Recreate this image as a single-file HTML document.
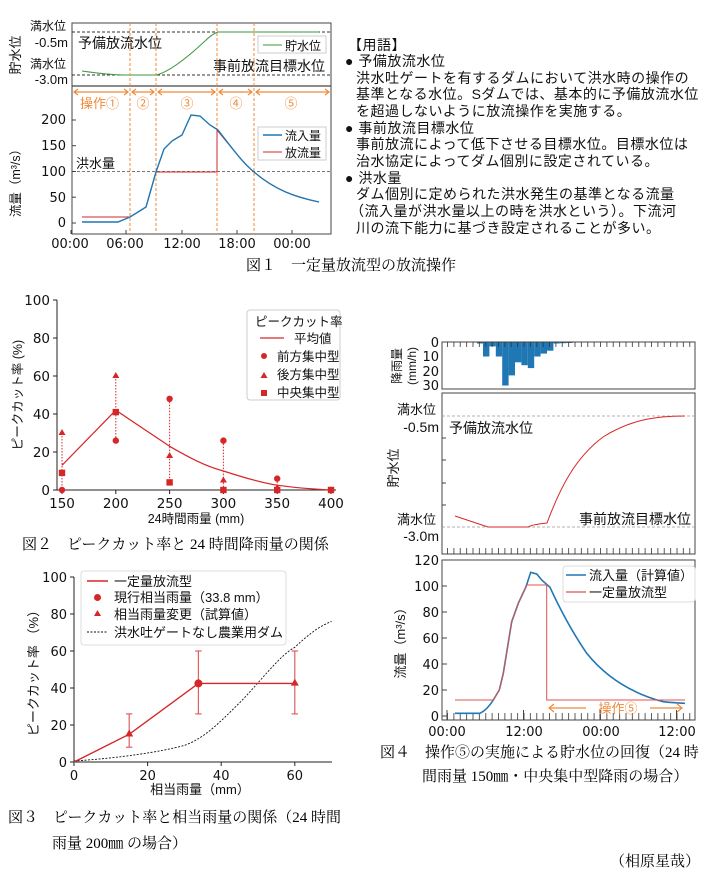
<!DOCTYPE html>
<html><head><meta charset="utf-8"><style>
body{margin:0;background:#fff;width:705px;height:880px;overflow:hidden}
svg{display:block}
.s{font-family:"DejaVu Sans","Noto Sans CJK JP",sans-serif}
.j{font-family:"Liberation Sans","Noto Sans CJK JP",sans-serif}
.c{font-family:"Liberation Serif","Noto Serif CJK JP",serif}
</style></head><body>
<svg width="705" height="880" viewBox="0 0 705 880" xmlns="http://www.w3.org/2000/svg">
<defs>
<pattern id="tk" x="447" y="0" width="6.375" height="10" patternUnits="userSpaceOnUse"><line x1="0.5" y1="0" x2="0.5" y2="10" stroke="#333" stroke-width="0.8"/></pattern>
</defs>
<!-- ========== FIG 1 ========== -->
<g class="j" fill="#111">
<rect x="72" y="23" width="259" height="211" fill="none" stroke="#444" stroke-width="1"/>
<line x1="72" y1="86" x2="331" y2="86" stroke="#444" stroke-width="1.2"/>
<line x1="72" y1="32" x2="331" y2="32" stroke="#333" stroke-dasharray="3,2"/>
<line x1="72" y1="75" x2="331" y2="75" stroke="#333" stroke-dasharray="3,2"/>
<text x="66" y="30" font-size="12" text-anchor="end">満水位</text>
<text x="68" y="47" font-size="13" text-anchor="end">-0.5m</text>
<text x="66" y="68" font-size="12" text-anchor="end">満水位</text>
<text x="68" y="84" font-size="13" text-anchor="end">-3.0m</text>
<text transform="translate(20,55) rotate(-90)" font-size="13" text-anchor="middle">貯水位</text>
<text x="78" y="48" font-size="14">予備放流水位</text>
<text x="325" y="71" font-size="14" text-anchor="end">事前放流目標水位</text>
<path fill="none" stroke="#3a9a3a" stroke-width="1" d="M82,71 Q110,75 125,75 L156,75 C170,72 190,55 205,41 Q212,34 218,32 L319,32"/>
<rect x="258" y="36" width="68" height="17" fill="#fff" stroke="#ccc"/>
<line x1="263" y1="45" x2="282" y2="45" stroke="#3a9a3a"/>
<text x="285" y="50" font-size="12">貯水位</text>
<g stroke="#f08a3a" stroke-dasharray="3,2" stroke-width="1"><line x1="130" y1="23" x2="130" y2="234"/><line x1="156" y1="23" x2="156" y2="234"/><line x1="217" y1="23" x2="217" y2="234"/><line x1="254" y1="23" x2="254" y2="234"/></g>
<g stroke="#f08a3a" stroke-width="1.2" fill="none">
<line x1="74" y1="92" x2="128" y2="92"/><line x1="132" y1="92" x2="154" y2="92"/><line x1="158" y1="92" x2="215" y2="92"/><line x1="219" y1="92" x2="252" y2="92"/><line x1="256" y1="92" x2="329" y2="92"/>
<path d="M78,89 L74,92 L78,95 M124,89 L128,92 L124,95 M136,89 L132,92 L136,95 M150,89 L154,92 L150,95 M162,89 L158,92 L162,95 M211,89 L215,92 L211,95 M223,89 L219,92 L223,95 M248,89 L252,92 L248,95 M260,89 L256,92 L260,95 M325,89 L329,92 L325,95"/>
</g>
<g fill="#f08a3a" font-size="13"><text x="80" y="108">操作①</text><text x="143" y="108" text-anchor="middle">②</text><text x="187" y="108" text-anchor="middle">③</text><text x="236" y="108" text-anchor="middle">④</text><text x="291" y="108" text-anchor="middle">⑤</text></g>
<line x1="72" y1="171.5" x2="331" y2="171.5" stroke="#777" stroke-dasharray="3,2"/>
<text x="76" y="168" font-size="13">洪水量</text>
<g class="s" font-size="13" text-anchor="end"><text x="66" y="124">200</text><text x="66" y="150">150</text><text x="66" y="176">100</text><text x="66" y="202">50</text><text x="66" y="227">0</text></g>
<g stroke="#444"><line x1="72" y1="120" x2="76" y2="120"/><line x1="72" y1="145.7" x2="76" y2="145.7"/><line x1="72" y1="171.5" x2="76" y2="171.5"/><line x1="72" y1="197.2" x2="76" y2="197.2"/><line x1="72" y1="223" x2="76" y2="223"/></g>
<text transform="translate(20,180) rotate(-90)" font-size="12.5" text-anchor="middle">流量（m³/s）</text>
<path fill="none" stroke="#d62728" stroke-width="1" d="M82,217 L130,217 L146,207 L156,172 L217,172 L217,130 C232,148 242,162 254,172 C275,190 295,197 319,202"/>
<path fill="none" stroke="#1f77b4" stroke-width="1.4" d="M82,222 L118,222 L130,217 L146,207 L156,172 L164,149 L172,141 L182,135 L191,115 L200,116 L210,125 L218,130 C232,148 242,162 254,172 C275,190 295,197 319,202"/>
<rect x="258" y="127" width="68" height="33" fill="#fff" stroke="#ccc"/>
<line x1="263" y1="135" x2="282" y2="135" stroke="#1f77b4" stroke-width="1.4"/><text x="285" y="140" font-size="12">流入量</text>
<line x1="263" y1="152" x2="282" y2="152" stroke="#d62728"/><text x="285" y="157" font-size="12">放流量</text>
<g class="s" font-size="13" text-anchor="middle"><text x="70" y="248">00:00</text><text x="125" y="248">06:00</text><text x="182" y="248">12:00</text><text x="237" y="248">18:00</text><text x="292" y="248">00:00</text></g>
<g stroke="#444"><line x1="71" y1="234" x2="71" y2="230"/><line x1="126" y1="234" x2="126" y2="230"/><line x1="182" y1="234" x2="182" y2="230"/><line x1="237" y1="234" x2="237" y2="230"/><line x1="292" y1="234" x2="292" y2="230"/></g>
</g>
<text class="c" x="246" y="270" font-size="15">図１　一定量放流型の放流操作</text>
<g class="j" font-size="14" fill="#111" letter-spacing="0.5">
<text x="348" y="50">【用語】</text>
<text x="345" y="66">●  予備放流水位</text>
<text x="356" y="83">洪水吐ゲートを有するダムにおいて洪水時の操作の</text>
<text x="356" y="99">基準となる水位。Sダムでは、基本的に予備放流水位</text>
<text x="356" y="116">を超過しないように放流操作を実施する。</text>
<text x="345" y="133">●  事前放流目標水位</text>
<text x="356" y="149">事前放流によって低下させる目標水位。目標水位は</text>
<text x="356" y="166">治水協定によってダム個別に設定されている。</text>
<text x="345" y="183">●  洪水量</text>
<text x="356" y="199">ダム個別に定められた洪水発生の基準となる流量</text>
<text x="350" y="216">（流入量が洪水量以上の時を洪水という）。下流河</text>
<text x="356" y="233">川の流下能力に基づき設定されることが多い。</text>
</g>
<!-- ========== FIG 2 ========== -->
<g class="j" fill="#111">
<line x1="57" y1="300" x2="57" y2="490" stroke="#222"/>
<line x1="57" y1="490" x2="336" y2="490" stroke="#222"/>
<g class="s" font-size="13.5" text-anchor="end"><text x="50" y="305">100</text><text x="50" y="343">80</text><text x="50" y="381">60</text><text x="50" y="419">40</text><text x="50" y="457">20</text><text x="50" y="495">0</text></g>
<g stroke="#222"><line x1="53" y1="300" x2="57" y2="300"/><line x1="53" y1="338" x2="57" y2="338"/><line x1="53" y1="376" x2="57" y2="376"/><line x1="53" y1="414" x2="57" y2="414"/><line x1="53" y1="452" x2="57" y2="452"/><line x1="53" y1="490" x2="57" y2="490"/>
<line x1="62" y1="490" x2="62" y2="494"/><line x1="115.8" y1="490" x2="115.8" y2="494"/><line x1="169.6" y1="490" x2="169.6" y2="494"/><line x1="223.4" y1="490" x2="223.4" y2="494"/><line x1="277.2" y1="490" x2="277.2" y2="494"/><line x1="331" y1="490" x2="331" y2="494"/></g>
<g class="s" font-size="13.5" text-anchor="middle"><text x="62" y="508">150</text><text x="115.8" y="508">200</text><text x="169.6" y="508">250</text><text x="223.4" y="508">300</text><text x="277.2" y="508">350</text><text x="331" y="508">400</text></g>
<text x="196" y="523" font-size="12.5" text-anchor="middle">24時間雨量 (mm)</text>
<text transform="translate(22,395) rotate(-90)" font-size="12.5" text-anchor="middle">ピークカット率 (%)</text>
<g stroke="#d62728" stroke-dasharray="1.5,1.5" stroke-width="1"><line x1="62" y1="433" x2="62" y2="490"/><line x1="115.8" y1="376" x2="115.8" y2="440.6"/><line x1="169.6" y1="398.8" x2="169.6" y2="482.4"/><line x1="223.4" y1="440.6" x2="223.4" y2="490"/><line x1="277.2" y1="478.6" x2="277.2" y2="490"/></g>
<path fill="none" stroke="#d62728" stroke-width="1.2" d="M62,465.3 L115.8,410.2 L169.6,446.3 C190,458 205,466 223.4,471 C245,478 262,483 277.2,485.2 Q300,488.5 331,490"/>
<g fill="#d62728">
<circle cx="62" cy="490" r="3.2"/><circle cx="115.8" cy="440.6" r="3.2"/><circle cx="169.6" cy="398.8" r="3.2"/><circle cx="223.4" cy="440.6" r="3.2"/><circle cx="277.2" cy="478.6" r="3.2"/><circle cx="331" cy="490" r="3.2"/>
<path d="M62,429 l3.5,6 h-7z M115.8,372 l3.5,6 h-7z M169.6,452 l3.5,6 h-7z M223.4,476.5 l3.5,6 h-7z M277.2,484 l3.5,6 h-7z"/>
<rect x="58.8" y="469.7" width="6.4" height="6.4"/><rect x="112.6" y="408.9" width="6.4" height="6.4"/><rect x="166.4" y="479.2" width="6.4" height="6.4"/><rect x="220.2" y="486.8" width="6.4" height="6.4"/><rect x="274" y="486.8" width="6.4" height="6.4"/><rect x="327.8" y="486.8" width="6.4" height="6.4"/>
</g>
<rect x="247" y="310" width="93" height="90" rx="3" fill="#fff" stroke="#ccc"/>
<text x="255" y="326" font-size="12.5">ピークカット率</text>
<line x1="260" y1="338" x2="284" y2="338" stroke="#d62728" stroke-width="1.2"/><text x="294" y="343" font-size="12.5">平均値</text>
<circle cx="264" cy="356" r="3" fill="#d62728"/><text x="277" y="361" font-size="12.5">前方集中型</text>
<path d="M264,372 l3.5,6 h-7z" fill="#d62728"/><text x="277" y="379" font-size="12.5">後方集中型</text>
<rect x="261" y="390" width="6" height="6" fill="#d62728"/><text x="277" y="397" font-size="12.5">中央集中型</text>
</g>
<text class="c" x="22" y="549" font-size="15">図２　ピークカット率と 24 時間降雨量の関係</text>
<!-- ========== FIG 3 ========== -->
<g class="j" fill="#111">
<line x1="74" y1="577" x2="74" y2="762" stroke="#222"/>
<line x1="74" y1="762" x2="332" y2="762" stroke="#222"/>
<g class="s" font-size="13" text-anchor="end"><text x="67" y="582">100</text><text x="67" y="619">80</text><text x="67" y="656">60</text><text x="67" y="693">40</text><text x="67" y="730">20</text><text x="67" y="767">0</text></g>
<g stroke="#222"><line x1="70" y1="577" x2="74" y2="577"/><line x1="70" y1="614" x2="74" y2="614"/><line x1="70" y1="651" x2="74" y2="651"/><line x1="70" y1="688" x2="74" y2="688"/><line x1="70" y1="725" x2="74" y2="725"/><line x1="70" y1="762" x2="74" y2="762"/>
<line x1="74" y1="762" x2="74" y2="766"/><line x1="147.6" y1="762" x2="147.6" y2="766"/><line x1="221.2" y1="762" x2="221.2" y2="766"/><line x1="294.8" y1="762" x2="294.8" y2="766"/></g>
<g class="s" font-size="13" text-anchor="middle"><text x="74" y="780">0</text><text x="147.6" y="780">20</text><text x="221.2" y="780">40</text><text x="294.8" y="780">60</text></g>
<text x="200" y="794" font-size="13" text-anchor="middle">相当雨量（mm）</text>
<text transform="translate(38,670) rotate(-90)" font-size="13" text-anchor="middle">ピークカット率 （%）</text>
<path fill="none" stroke="#111" stroke-width="0.9" stroke-dasharray="2,1.5" d="M74,761 C120,758 160,752 184.4,745.4 C205,738 220,722 239.6,702.8 C260,682 280,655 294.8,647.3 C310,633 320,626 331.6,621.4"/>
<g stroke="#e06060" stroke-width="1.2"><line x1="129.2" y1="713.9" x2="129.2" y2="747.2"/><line x1="126" y1="713.9" x2="132.4" y2="713.9"/><line x1="126" y1="747.2" x2="132.4" y2="747.2"/>
<line x1="198.4" y1="651" x2="198.4" y2="713.9"/><line x1="195.2" y1="651" x2="201.6" y2="651"/><line x1="195.2" y1="713.9" x2="201.6" y2="713.9"/>
<line x1="294.8" y1="651" x2="294.8" y2="713.9"/><line x1="291.6" y1="651" x2="298" y2="651"/><line x1="291.6" y1="713.9" x2="298" y2="713.9"/></g>
<polyline fill="none" stroke="#d62728" stroke-width="1.4" points="74,762 129.2,734.3 198.4,683.4 294.8,683.4"/>
<circle cx="198.4" cy="683.4" r="4" fill="#d62728"/>
<path d="M129.2,729.5 l4,7 h-8z M294.8,678.6 l4,7 h-8z" fill="#d62728"/>
<rect x="81" y="571" width="205" height="74" rx="3" fill="#fff" stroke="#ddd"/>
<line x1="87" y1="581" x2="108" y2="581" stroke="#d62728" stroke-width="1.4"/><text x="114" y="586" font-size="13">一定量放流型</text>
<circle cx="97.5" cy="597.5" r="3.5" fill="#d62728"/><text x="114" y="602" font-size="13">現行相当雨量（33.8 mm）</text>
<path d="M97.5,610 l3.5,6 h-7z" fill="#d62728"/><text x="114" y="619" font-size="13">相当雨量変更（試算値）</text>
<line x1="87" y1="632" x2="108" y2="632" stroke="#111" stroke-dasharray="2,1.5"/><text x="114" y="637" font-size="13">洪水吐ゲートなし農業用ダム</text>
</g>
<text class="c" x="8" y="822" font-size="15">図３　ピークカット率と相当雨量の関係（24 時間</text>
<text class="c" x="52" y="848" font-size="15">雨量 200㎜ の場合）</text>
<!-- ========== FIG 4 ========== -->
<g class="j" fill="#111">
<g fill="#1f77b4">
<rect x="477" y="342" width="6.4" height="1.5"/><rect x="483" y="342" width="6.4" height="14.5"/><rect x="489.4" y="342" width="6.4" height="4.4"/><rect x="495.8" y="342" width="6.4" height="14.5"/><rect x="502.2" y="342" width="6.4" height="43.5"/><rect x="508.6" y="342" width="6.4" height="33.4"/><rect x="515" y="342" width="6.4" height="20.3"/><rect x="521.4" y="342" width="6.4" height="23.2"/><rect x="527.8" y="342" width="6.4" height="26.1"/><rect x="534.2" y="342" width="6.4" height="14.5"/><rect x="540.6" y="342" width="6.4" height="11.6"/><rect x="547" y="342" width="6.4" height="8.7"/><rect x="553.4" y="342" width="6.4" height="1.5"/><rect x="559.8" y="342" width="6.4" height="1.2"/><rect x="566.2" y="342" width="6.4" height="1"/>
</g>
<rect x="442" y="342" width="253" height="47" fill="none" stroke="#444"/>
<rect x="442" y="342" width="253" height="5" fill="url(#tk)"/>
<g class="s" font-size="13" text-anchor="end"><text x="439" y="347">0</text><text x="439" y="361">10</text><text x="439" y="376">20</text><text x="439" y="390">30</text></g>
<text transform="translate(401,366) rotate(-90)" font-size="12" text-anchor="middle">降雨量</text>
<text transform="translate(416,366) rotate(-90)" font-size="12" text-anchor="middle">(mm/h)</text>
<rect x="442" y="393" width="253" height="161" fill="none" stroke="#444"/>
<rect x="442" y="548" width="253" height="6" fill="url(#tk)"/>
<line x1="442" y1="416" x2="695" y2="416" stroke="#999" stroke-dasharray="3,2" stroke-width="0.8"/>
<line x1="442" y1="527" x2="695" y2="527" stroke="#999" stroke-dasharray="3,2" stroke-width="0.8"/>
<g stroke="#444"><line x1="442" y1="438" x2="446" y2="438"/><line x1="442" y1="460" x2="446" y2="460"/><line x1="442" y1="483" x2="446" y2="483"/><line x1="442" y1="505" x2="446" y2="505"/></g>
<text x="436" y="414" font-size="13" text-anchor="end">満水位</text>
<text x="439" y="432" font-size="14" text-anchor="end">-0.5m</text>
<text x="436" y="524" font-size="13" text-anchor="end">満水位</text>
<text x="439" y="541" font-size="14" text-anchor="end">-3.0m</text>
<text transform="translate(398,468) rotate(-90)" font-size="13" text-anchor="middle">貯水位</text>
<text x="449" y="433" font-size="14">予備放流水位</text>
<text x="691" y="524" font-size="14" text-anchor="end">事前放流目標水位</text>
<path fill="none" stroke="#d62728" stroke-width="1" d="M455,516 L488,527 L528,527 C532,525 535,524.5 547,523 C560,488 575,458 603,437 C630,420 655,416 685,416"/>
<rect x="442" y="560" width="253" height="160" fill="none" stroke="#444"/>
<rect x="442" y="713" width="253" height="7" fill="url(#tk)"/>
<g stroke="#444"><line x1="447" y1="720" x2="447" y2="710"/><line x1="523.5" y1="720" x2="523.5" y2="710"/><line x1="600" y1="720" x2="600" y2="710"/><line x1="676.5" y1="720" x2="676.5" y2="710"/>
<line x1="442" y1="716" x2="447" y2="716"/><line x1="442" y1="690" x2="447" y2="690"/><line x1="442" y1="664" x2="447" y2="664"/><line x1="442" y1="638" x2="447" y2="638"/><line x1="442" y1="612" x2="447" y2="612"/><line x1="442" y1="586" x2="447" y2="586"/><line x1="442" y1="560" x2="447" y2="560"/></g>
<g class="s" font-size="13" text-anchor="end"><text x="439" y="565">120</text><text x="439" y="591">100</text><text x="439" y="617">80</text><text x="439" y="643">60</text><text x="439" y="669">40</text><text x="439" y="695">20</text><text x="439" y="721">0</text></g>
<text transform="translate(405,640) rotate(-90)" font-size="13" text-anchor="middle">流量（m³/s）</text>
<g class="s" font-size="13" text-anchor="middle"><text x="447" y="736">00:00</text><text x="524" y="736">12:00</text><text x="601" y="736">00:00</text><text x="677" y="736">12:00</text></g>
<path fill="none" stroke="#1f77b4" stroke-width="1.6" d="M455,713.3 L480,713.3 Q487,710 493.3,700 L499.3,690 L503.3,673.3 L511.7,621.7 L518.3,603.3 L526,586.7 L530.7,572.3 L536.7,574 L541.7,580 L550,587.3 C558,605 572,632 586.7,653.3 C605,676 630,693 663.3,701.7 Q675,703 685,703.3"/>
<polyline fill="none" stroke="#e05050" stroke-width="1" points="455,700 493.3,700 499.3,690 503.3,673.3 511.7,621.7 518.3,603.3 526.7,585 546.7,585 546.7,700 685,700"/>
<rect x="563" y="566" width="132" height="36" rx="3" fill="#fff" stroke="#ddd"/>
<line x1="566" y1="575" x2="586" y2="575" stroke="#1f77b4" stroke-width="1.6"/><text x="589" y="580" font-size="13">流入量（計算値）</text>
<line x1="566" y1="592" x2="586" y2="592" stroke="#d62728"/><text x="589" y="597" font-size="13">一定量放流型</text>
<g stroke="#f08a3a" stroke-width="1.2" fill="none"><line x1="549" y1="708" x2="586" y2="708"/><line x1="650" y1="708" x2="682" y2="708"/><path d="M554,704 L549,708 L554,712 M677,704 L682,708 L677,712"/></g>
<text x="618" y="713" font-size="13" fill="#f08a3a" text-anchor="middle">操作⑤</text>
</g>
<text class="c" x="380" y="757" font-size="15">図４　操作⑤の実施による貯水位の回復（24 時</text>
<text class="c" x="422" y="781" font-size="15">間雨量 150㎜・中央集中型降雨の場合）</text>
<text class="c" x="700" y="866" font-size="15" text-anchor="end">（相原星哉）</text>
</svg>
</body></html>
